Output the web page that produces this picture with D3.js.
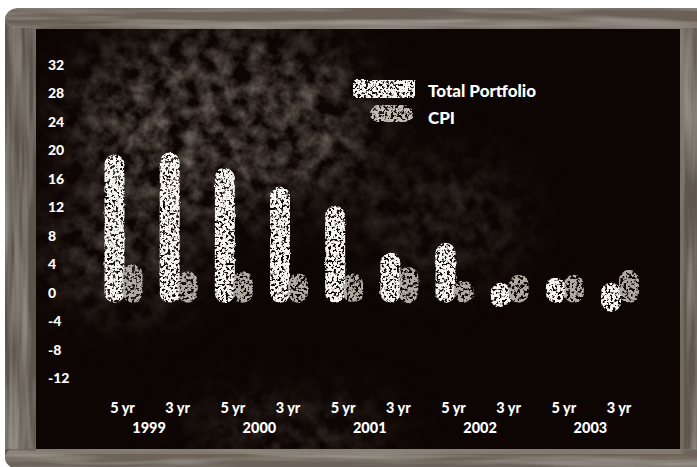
<!DOCTYPE html>
<html>
<head>
<meta charset="utf-8">
<script src="https://cdn.jsdelivr.net/npm/d3@7"></script>
<style>
  html, body { margin: 0; padding: 0; background: #ffffff; }
  svg { display: block; }
  text { font-family: Lato, "Open Sans", sans-serif; font-weight: 900; fill: #ffffff; }
</style>
</head>
<body>
<svg id="chart" width="697" height="467"></svg>
<script>
// ---- data -------------------------------------------------------------
const categories = ["1999 5 yr", "1999 3 yr", "2000 5 yr", "2000 3 yr", "2001 5 yr",
                    "2001 3 yr", "2002 5 yr", "2002 3 yr", "2003 5 yr", "2003 3 yr"];
const periodLabels = ["5 yr", "3 yr", "5 yr", "3 yr", "5 yr", "3 yr", "5 yr", "3 yr", "5 yr", "3 yr"];
const yearLabels = ["1999", "2000", "2001", "2002", "2003"];
const totalPortfolio = [18.0, 18.3, 16.1, 13.5, 10.8, 4.2, 5.6, -0.6, 0.7, -1.3];
const cpi = [2.6, 1.6, 1.6, 1.3, 1.3, 2.2, 0.3, 1.1, 1.1, 1.8];
const yTicks = [32, 28, 24, 20, 16, 12, 8, 4, 0, -4, -8, -12];
const seriesNames = ["Total Portfolio", "CPI"];

// ---- layout -----------------------------------------------------------
const board = { x: 36, y: 29, w: 644, h: 420 };
const svg = d3.select("#chart");
const defs = svg.append("defs");

const x = d3.scalePoint().domain(categories).range([122.5, 619]);
const y = d3.scaleLinear().domain([-12, 32]).range([378, 65]);

// ---- filters ----------------------------------------------------------
// speckled chalk fill: dark grains knocked out of the shape
function chalkFilter(id, seed, freq, cut) {
  const f = defs.append("filter").attr("id", id)
    .attr("x", "-20%").attr("y", "-20%").attr("width", "140%").attr("height", "140%");
  f.append("feTurbulence").attr("type", "fractalNoise").attr("baseFrequency", freq)
    .attr("numOctaves", 4).attr("seed", seed).attr("result", "noise");
  f.append("feColorMatrix").attr("in", "noise").attr("type", "matrix")
    .attr("values", `0 0 0 0 0  0 0 0 0 0  0 0 0 0 0  9 0 0 0 ${-9 * cut}`).attr("result", "mask");
  f.append("feTurbulence").attr("type", "fractalNoise").attr("baseFrequency", 0.12)
    .attr("numOctaves", 2).attr("seed", seed + 7).attr("result", "warp");
  f.append("feDisplacementMap").attr("in", "SourceGraphic").attr("in2", "warp")
    .attr("scale", 2.5).attr("xChannelSelector", "R").attr("yChannelSelector", "G").attr("result", "rough");
  f.append("feComposite").attr("in", "rough").attr("in2", "mask").attr("operator", "in").attr("result", "speck");
  f.append("feGaussianBlur").attr("in", "speck").attr("stdDeviation", 0.35);
}
chalkFilter("chalkA", 4, 0.38, 0.37);
chalkFilter("chalkB", 11, 0.34, 0.39);

// faint grainy haze on the board
const haze = defs.append("filter").attr("id", "haze")
  .attr("x", 0).attr("y", 0).attr("width", "100%").attr("height", "100%");
haze.append("feTurbulence").attr("type", "fractalNoise").attr("baseFrequency", 0.06)
  .attr("numOctaves", 5).attr("seed", 21).attr("result", "n");
haze.append("feColorMatrix").attr("in", "n").attr("type", "matrix")
  .attr("values", "0 0 0 0 0.33  0 0 0 0 0.28  0 0 0 0 0.24  1.5 0 0 0 -0.45");

const hazeMaskBlur = defs.append("filter").attr("id", "softBlur")
  .attr("x", "-50%").attr("y", "-50%").attr("width", "200%").attr("height", "200%");
hazeMaskBlur.append("feGaussianBlur").attr("stdDeviation", 30);

const mask = defs.append("mask").attr("id", "hazeMask");
const mg = mask.append("g").attr("filter", "url(#softBlur)");
mg.append("ellipse").attr("cx", 220).attr("cy", 120).attr("rx", 150).attr("ry", 95).attr("fill", "#ccc");
mg.append("ellipse").attr("cx", 120).attr("cy", 250).attr("rx", 80).attr("ry", 60).attr("fill", "#888");
mg.append("ellipse").attr("cx", 290).attr("cy", 430).attr("rx", 110).attr("ry", 20).attr("fill", "#999");
mg.append("ellipse").attr("cx", 440).attr("cy", 220).attr("rx", 90).attr("ry", 60).attr("fill", "#555");

// wood grain
function woodFilter(id, freq, seed) {
  const f = defs.append("filter").attr("id", id)
    .attr("x", 0).attr("y", 0).attr("width", "100%").attr("height", "100%");
  f.append("feTurbulence").attr("type", "fractalNoise").attr("baseFrequency", freq)
    .attr("numOctaves", 3).attr("seed", seed).attr("result", "n");
  f.append("feColorMatrix").attr("in", "n").attr("type", "matrix")
    .attr("values", "0 0 0 0 0.58  0 0 0 0 0.54  0 0 0 0 0.49  1.0 0 0 0 -0.4").attr("result", "g");
  f.append("feComposite").attr("in", "g").attr("in2", "SourceGraphic").attr("operator", "atop");
}
woodFilter("woodH", "0.006 0.1", 5);
woodFilter("woodV", "0.1 0.006", 9);

// ---- frame ------------------------------------------------------------
svg.append("rect").attr("x", 5).attr("y", 8).attr("width", 705).attr("height", 462)
  .attr("rx", 16).attr("fill", "#62594f");
svg.append("rect").attr("x", 5).attr("y", 8).attr("width", 705).attr("height", 22)
  .attr("rx", 14).attr("fill", "#6a6056").attr("filter", "url(#woodH)");
svg.append("rect").attr("x", 5).attr("y", 447).attr("width", 705).attr("height", 22)
  .attr("rx", 14).attr("fill", "#6d645a").attr("filter", "url(#woodH)");
svg.append("rect").attr("x", 5).attr("y", 28).attr("width", 32).attr("height", 421)
  .attr("fill", "#5c534a").attr("filter", "url(#woodV)");
svg.append("rect").attr("x", 679).attr("y", 28).attr("width", 30).attr("height", 421)
  .attr("fill", "#60574e").attr("filter", "url(#woodV)");
// light bevel along the inner edges
svg.append("rect").attr("x", 36).attr("y", 449).attr("width", 645).attr("height", 5)
  .attr("fill", "#8d857a").attr("opacity", 0.65);
svg.append("rect").attr("x", 680).attr("y", 29).attr("width", 4).attr("height", 425)
  .attr("fill", "#80786d").attr("opacity", 0.55);

// ---- board ------------------------------------------------------------
svg.append("rect").attr("x", board.x).attr("y", board.y).attr("width", board.w).attr("height", board.h)
  .attr("fill", "#0d0503");
svg.append("rect").attr("x", board.x).attr("y", board.y).attr("width", board.w).attr("height", board.h)
  .attr("filter", "url(#haze)").attr("mask", "url(#hazeMask)").attr("fill", "#000");

// ---- y axis labels ----------------------------------------------------
svg.append("g").selectAll("text").data(yTicks).join("text")
  .attr("x", 48).attr("y", d => y(d)).attr("dy", "0.36em")
  .attr("font-size", 14).text(d => d);

// ---- bars -------------------------------------------------------------
const barW = 20, r = 10;
function capsule(sel, values, offset, fill, filterId) {
  sel.selectAll("rect").data(values).join("rect")
    .attr("x", (d, i) => x(categories[i]) + offset - barW / 2)
    .attr("y", d => Math.min(y(d), y(0)) - r)
    .attr("width", barW)
    .attr("height", d => Math.abs(y(d) - y(0)) + 2 * r)
    .attr("rx", r)
    .attr("fill", fill)
    .attr("filter", `url(#${filterId})`);
}
capsule(svg.append("g"), totalPortfolio, -8, "#f7f5f1", "chalkA");
capsule(svg.append("g"), cpi, 10, "#b2aba3", "chalkB");

// ---- x axis labels ----------------------------------------------------
svg.append("g").selectAll("text").data(periodLabels).join("text")
  .attr("x", (d, i) => x(categories[i])).attr("y", 413)
  .attr("text-anchor", "middle").attr("font-size", 14.5).text(d => d);
svg.append("g").selectAll("text").data(yearLabels).join("text")
  .attr("x", (d, i) => (x(categories[2 * i]) + x(categories[2 * i + 1])) / 2 - 1)
  .attr("y", 433).attr("text-anchor", "middle").attr("font-size", 14.5).text(d => d);

// ---- legend -----------------------------------------------------------
const legend = svg.append("g");
legend.append("rect").attr("x", 353).attr("y", 80).attr("width", 62).attr("height", 18)
  .attr("rx", 2).attr("fill", "#f7f5f1").attr("filter", "url(#chalkA)");
legend.append("rect").attr("x", 370).attr("y", 105).attr("width", 43).attr("height", 17)
  .attr("rx", 8.5).attr("fill", "#c2bcb4").attr("filter", "url(#chalkB)");
legend.selectAll("text").data(seriesNames).join("text")
  .attr("x", 428).attr("y", (d, i) => 91 + i * 27).attr("dy", "0.36em")
  .attr("font-size", 17).text(d => d);
</script>
</body>
</html>
